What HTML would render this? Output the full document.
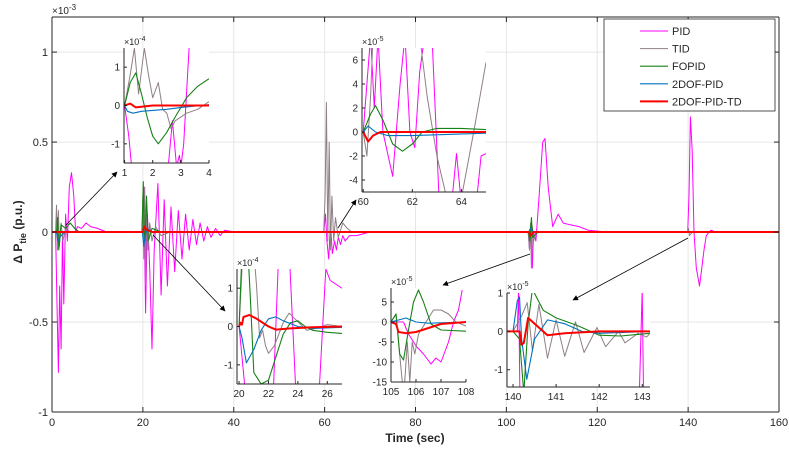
<!DOCTYPE html>
<html><head><meta charset="utf-8"><style>
html,body{margin:0;padding:0;background:#fff;}
svg{display:block;font-family:"Liberation Sans",Arial,sans-serif;}
</style></head><body>
<svg id="chart" width="789" height="452" viewBox="0 0 789 452" xmlns="http://www.w3.org/2000/svg">
<defs><marker id="ah" viewBox="0 0 10 10" refX="9" refY="5" markerWidth="7" markerHeight="7" orient="auto"><path d="M0,0 L10,5 L0,10 z" fill="#000"/></marker></defs>
</svg>
<script>
const seriesNames = ["PID","TID","FOPID","2DOF-PID","2DOF-PID-TD"];
const mainXTicks = [0,20,40,60,80,100,120,140,160];
const mainYTicks = [-1,-0.5,0,0.5,1];
const mainYTickLabels = ["-1","-0.5","0","0.5","1"];
// main plot (units 1e-3)
const pidMain = [[0,0],[0.8,0],[1.1,-0.4],[1.4,-0.78],[1.7,-0.3],[2.0,-0.65],[2.3,0],[2.6,-0.4],[3.0,0.1],[3.4,-0.05],[3.8,0.25],[4.3,0.33],[4.8,0.2],[5.2,0],[5.6,0.03],[6.5,0.02],[7.5,0.05],[8.5,0.03],[10,0.02],[12,0],[19.8,0],[20.2,0.25],[20.6,-0.45],[21.0,0.1],[21.5,-0.2],[22.0,-0.65],[22.5,-0.1],[23.3,0.27],[24.0,-0.35],[24.7,0.18],[25.4,-0.3],[26.2,0.14],[27,-0.22],[27.8,0.12],[28.6,-0.15],[29.4,0.1],[30.2,-0.1],[31,0.07],[31.8,-0.07],[32.6,0.05],[33.4,-0.05],[34.2,0.03],[35,-0.03],[36,0.02],[37,-0.02],[38,0.01],[40,0],[59.8,0],[60.2,0.1],[60.5,-0.05],[60.9,-0.15],[61.3,0.05],[61.7,-0.12],[62.2,-0.05],[62.6,-0.1],[63,-0.03],[63.5,-0.07],[64,-0.02],[64.5,-0.05],[65.5,-0.02],[67,-0.02],[70,0],[104.8,0],[105.1,-0.1],[105.4,0.05],[105.7,-0.2],[106,0],[106.5,-0.05],[107.2,0.2],[108.0,0.5],[108.5,0.52],[109.2,0.25],[110.2,0.03],[111.4,0.1],[112.5,0.05],[114,0.04],[116,0.03],[118,0.01],[122,0],[139.9,0],[140.2,0.2],[140.5,0.64],[140.9,0.45],[141.3,0],[141.8,-0.2],[142.5,-0.3],[143.0,-0.2],[143.5,-0.1],[144,-0.02],[145,0.01],[146,0],[160,0]];
const tidMain = [[0,0],[0.8,0],[1.0,0.15],[1.2,-0.1],[1.4,0.12],[1.6,-0.08],[2,0.05],[2.4,-0.05],[3,0.02],[4,0],[19.8,0],[20.0,0.2],[20.2,-0.15],[20.4,0.25],[20.6,-0.3],[20.8,0.1],[21.1,-0.1],[21.5,0.05],[22,-0.05],[22.8,0.03],[24,-0.02],[26,0],[59.8,0],[60.1,0.2],[60.4,0.72],[60.7,-0.05],[61.0,0.5],[61.3,-0.1],[61.6,0.2],[62,-0.05],[62.4,0.08],[63,-0.03],[64,0.05],[65,0.02],[66,0],[104.8,0],[105.1,-0.1],[105.3,0.05],[105.5,-0.2],[105.7,0.03],[106,-0.05],[106.5,0],[139.8,0],[140.1,0.02],[140.3,-0.02],[141,0],[160,0]];
const fopidMain = [[0,0],[1,0],[1.2,0.08],[1.5,-0.1],[2.0,0.04],[3,0.02],[4,0.05],[5,0.02],[6,0],[19.8,0],[20.1,0.28],[20.3,0],[20.5,-0.05],[20.8,0.2],[21.2,-0.05],[22,0.02],[24,0],[104.9,0],[105.2,-0.05],[105.5,0.08],[105.8,-0.03],[106.2,-0.02],[107,0],[160,0]];
const dofMain = [[0,0],[1,0],[1.3,-0.05],[2,-0.02],[3,0],[19.9,0],[20.2,-0.08],[20.5,-0.02],[21,0.02],[22,0],[104.9,0],[105.3,0.02],[106,0],[160,0]];
const tdMain = [[0,0],[20,0],[20.3,0.03],[21,0.01],[22,0],[105,0],[105.3,-0.02],[106,0],[160,0]];
// inset 1 (1e-4)
const pidIn1 = [[1,0],[1.15,-0.8],[1.3,-2],[2.5,-2],[2.7,-0.4],[2.85,-1.6],[2.95,-1.3],[3.0,-1.6],[3.1,-1],[3.3,1.6]];
const tidIn1 = [[1,0],[1.2,0.8],[1.35,1.5],[1.5,0.3],[1.7,1.5],[1.85,0.8],[2.0,0.2],[2.2,0.6],[2.35,-0.1],[2.5,-0.2],[2.65,-0.6],[2.8,-0.4],[3.2,-0.2],[3.6,-0.1],[4,0.1]];
const fopidIn1 = [[1,0],[1.2,0.6],[1.4,0.85],[1.6,0.3],[1.8,-0.3],[2.0,-0.8],[2.2,-1.0],[2.5,-0.7],[2.8,-0.3],[3.2,0.2],[3.6,0.5],[4,0.7]];
const dofIn1 = [[1,0],[1.1,-0.15],[1.3,-0.2],[1.6,-0.15],[2.5,-0.1],[3,-0.05],[4,0.02]];
const tdIn1 = [[1,0],[1.2,0.05],[1.4,-0.05],[2,0],[4,0]];
// inset 2 (1e-5)
const pidIn2 = [[60,0],[60.3,8],[60.45,2],[60.6,8],[60.8,0],[61.2,-3.7],[61.5,4],[61.7,8],[61.9,0],[62.1,-1.3],[62.3,5],[62.5,8],[62.8,8],[63.1,-6],[63.6,-6],[63.8,-1.8],[64.0,-6],[64.6,-6],[64.8,-2],[65,-1.8]];
const tidIn2 = [[60,0],[60.15,-2],[60.3,3],[60.4,8],[62.3,8],[62.6,3],[63,-2],[63.4,-5.5],[64.0,-5.5],[64.5,0],[65,5.8]];
const fopidIn2 = [[60,0],[60.3,1.5],[60.5,2.2],[60.8,1],[61.2,-1],[61.6,-1.6],[62,-1],[62.4,0],[63,0.3],[64,0.3],[65,0.2]];
const dofIn2 = [[60,0],[60.2,0.5],[60.5,0],[61,-0.3],[62,-0.3],[65,-0.1]];
const tdIn2 = [[60,0],[60.2,-0.8],[60.4,-0.3],[60.7,0],[65,0]];
// inset 3 (1e-4)
const pidIn3 = [[20,0],[20.5,-2],[22.3,-2],[22.7,2],[23.4,2],[23.9,-2],[25.4,-2],[25.9,1.5],[26.2,1.2],[27,1.0]];
const tidIn3 = [[20,0],[20.2,1.5],[20.5,2],[21,2],[21.2,1],[21.4,-0.3],[21.6,-0.1],[21.8,-0.5],[22,-0.7],[22.4,-0.5],[23,0.1],[23.4,0.35],[23.8,0.2],[24.2,0.05],[24.6,-0.1],[25.2,-0.05],[26,0.05],[27,0]];
const fopidIn3 = [[20,0],[20.15,1.5],[20.3,2],[20.6,2],[20.8,0.5],[21,-1.2],[21.5,-1.5],[22,-1.4],[22.5,-0.8],[23,-0.2],[23.5,0.1],[24,0.15],[24.5,0],[25,-0.1],[26,-0.15],[27,-0.18]];
const dofIn3 = [[20,0],[20.2,-0.3],[20.5,-0.95],[21,-0.6],[21.5,-0.1],[22,0.2],[22.5,0.25],[23,0.15],[24,0],[25,-0.05],[27,-0.02]];
const tdIn3 = [[20,0],[20.1,0.1],[20.2,0.05],[20.3,0.25],[20.7,0.3],[21.2,0.2],[22,0],[22.5,-0.08],[23.5,-0.05],[25,-0.02],[27,0]];
// inset 4 (1e-5)
const pidIn4 = [[105,0],[105.5,0],[105.7,-3],[106,-6],[106.3,-8],[106.6,-10.5],[106.8,-9],[107.0,-10],[107.3,-5],[107.5,0],[107.7,3],[107.85,8]];
const tidIn4 = [[105,0],[105.2,2],[105.3,-5],[105.45,-15],[105.55,-15],[105.65,-5],[105.75,-15],[105.85,-5],[105.95,-8],[106.1,-3],[106.3,-1],[106.5,1],[106.7,3],[107,3],[107.3,2],[107.6,0],[108,-1]];
const fopidIn4 = [[105,0],[105.2,2],[105.35,-8],[105.5,-9.5],[105.7,-2],[105.9,5],[106.1,8],[106.3,5],[106.6,-0.5],[107,-2],[108,-2.3]];
const dofIn4 = [[105,0],[105.3,0.5],[105.6,1],[106,0],[106.5,-0.3],[108,0]];
const tdIn4 = [[105,0],[105.2,-0.5],[105.3,-2.5],[105.6,-2.8],[106,-2.5],[106.5,-1.5],[107,-0.5],[108,0]];
// inset 5 (1e-5)
const pidIn5 = [[139.86,0],[140.1,0],[140.13,1.1],[140.16,-1.6],[140.2,-3],[142.9,-3],[143.0,1.1],[143.03,-1.6]];
const tidIn5 = [[140,0],[140.2,0.4],[140.33,0.75],[140.45,-0.5],[140.6,0.7],[140.8,-0.7],[141.0,0.3],[141.2,-0.65],[141.45,0.25],[141.65,-0.55],[141.95,0.1],[142.15,-0.4],[142.45,0],[142.6,-0.3],[142.9,-0.05],[143.1,-0.15],[143.18,-0.05]];
const fopidIn5 = [[140,0],[140.15,-0.2],[140.25,-1.6],[140.35,0.2],[140.45,1.1],[140.7,0.55],[141.0,0.35],[141.5,0.15],[142,-0.1],[142.5,-0.12],[143.18,-0.05]];
const dofIn5 = [[140,0],[140.1,0.8],[140.15,0.9],[140.2,-0.2],[140.32,-1.25],[140.5,-0.2],[140.8,0.3],[141.2,0.2],[141.6,0],[142,-0.05],[143.18,0]];
const tdIn5 = [[139.86,0],[140.15,0],[140.2,-0.35],[140.25,-0.3],[140.35,0.35],[140.5,0.2],[140.8,-0.1],[141.2,-0.05],[142,0],[143.18,0]];

const colors = ["#ff00ff","#8e7f84","#168216","#0072bd","#ff0000"];
const widths = [1,1,1.1,1.1,2];
const NS="http://www.w3.org/2000/svg";
const svg=document.getElementById('chart');
function mk(tag,attrs,parent){const e=document.createElementNS(NS,tag);for(const k in attrs)e.setAttribute(k,attrs[k]);(parent||svg).appendChild(e);return e;}
let clipId=0;
function panel(cfg,series,key){
  const g=mk('g',{});
  
  
  const sx=v=>cfg.l+(v-cfg.x0)/(cfg.x1-cfg.x0)*(cfg.r-cfg.l);
  const sy=v=>cfg.b-(v-cfg.y0)/(cfg.y1-cfg.y0)*(cfg.b-cfg.t);
  mk('rect',{x:cfg.l,y:cfg.t,width:cfg.r-cfg.l,height:cfg.b-cfg.t,fill:'#fff'},g);
  if(cfg.grid){
    cfg.xt.forEach(v=>mk('line',{x1:sx(v),x2:sx(v),y1:cfg.t,y2:cfg.b,stroke:'#e6e6e6','stroke-width':1},g));
    cfg.yt.forEach(v=>mk('line',{x1:cfg.l,x2:cfg.r,y1:sy(v),y2:sy(v),stroke:'#e6e6e6','stroke-width':1},g));
  }
  const id='c'+(clipId++);
  const cp=mk('clipPath',{id:id},g);mk('rect',{x:cfg.l,y:cfg.t,width:cfg.r-cfg.l,height:cfg.b-cfg.t},cp);
  const sg=mk('g',{'clip-path':'url(#'+id+')'},g);
  series.forEach((pts,i)=>{
    const p=mk('polyline',{points:pts.map(d=>sx(d[0]).toFixed(1)+','+sy(d[1]).toFixed(1)).join(' '),fill:'none',stroke:colors[i],'stroke-width':widths[i],'stroke-linejoin':'round'},sg);
    
    
  });
  const ax='#262626';
  mk('line',{x1:cfg.l,x2:cfg.l,y1:cfg.t,y2:cfg.b,stroke:ax},g);
  mk('line',{x1:cfg.l,x2:cfg.r,y1:cfg.b,y2:cfg.b,stroke:ax},g);
  if(cfg.box){mk('line',{x1:cfg.l,x2:cfg.r,y1:cfg.t,y2:cfg.t,stroke:ax},g);mk('line',{x1:cfg.r,x2:cfg.r,y1:cfg.t,y2:cfg.b,stroke:ax},g);}
  const tl=cfg.box?5:3;
  cfg.xt.forEach((v,i)=>{
    mk('line',{x1:sx(v),x2:sx(v),y1:cfg.b,y2:cfg.b-tl,stroke:ax},g);
    if(cfg.box)mk('line',{x1:sx(v),x2:sx(v),y1:cfg.t,y2:cfg.t+tl,stroke:ax},g);
    const t=mk('text',{x:sx(v),y:cfg.b+cfg.fs+3,'font-size':cfg.fs,'text-anchor':'middle',fill:ax},g);t.textContent=cfg.xl?cfg.xl[i]:String(v);
    
    
  });
  cfg.yt.forEach((v,i)=>{
    mk('line',{x1:cfg.l,x2:cfg.l+tl,y1:sy(v),y2:sy(v),stroke:ax},g);
    if(cfg.box)mk('line',{x1:cfg.r,x2:cfg.r-tl,y1:sy(v),y2:sy(v),stroke:ax},g);
    const t=mk('text',{x:cfg.l-4,y:sy(v)+cfg.fs*0.35,'font-size':cfg.fs,'text-anchor':'end',fill:ax},g);t.textContent=cfg.yl?cfg.yl[i]:String(v);
    
    
  });
  const ex=mk('text',{x:cfg.l,y:cfg.t-3,'font-size':cfg.fs-1,fill:ax},g);
  ex.innerHTML='×10<tspan dy="-4" font-size="'+(cfg.fs-3)+'">'+cfg.exp+'</tspan>';
  
  
}
panel({l:52,r:779,t:17,b:412,x0:0,x1:160,y0:-1,y1:1.195,xt:mainXTicks,yt:mainYTicks,yl:mainYTickLabels,grid:true,box:true,fs:11,exp:'-3'},[pidMain,tidMain,fopidMain,dofMain,tdMain],'main');
panel({l:124,r:209,t:48,b:163,x0:0.98,x1:4,y0:-1.5,y1:1.5,xt:[1,2,3,4],yt:[-1,0,1],fs:10,exp:'-4'},[pidIn1,tidIn1,fopidIn1,dofIn1,tdIn1],'inset-1');
panel({l:362,r:486,t:48,b:192,x0:59.95,x1:65,y0:-5,y1:7,xt:[60,62,64],yt:[-4,-2,0,2,4,6],fs:10,exp:'-5'},[pidIn2,tidIn2,fopidIn2,dofIn2,tdIn2],'inset-2');
panel({l:237,r:342,t:269,b:384,x0:19.86,x1:27,y0:-1.5,y1:1.5,xt:[20,22,24,26],yt:[-1,0,1],fs:10,exp:'-4'},[pidIn3,tidIn3,fopidIn3,dofIn3,tdIn3],'inset-3');
panel({l:391,r:466,t:288,b:382,x0:105,x1:108,y0:-15,y1:8.5,xt:[105,106,107,108],yt:[-15,-10,-5,0,5],fs:10,exp:'-5'},[pidIn4,tidIn4,fopidIn4,dofIn4,tdIn4],'inset-4');
panel({l:507,r:650,t:293,b:387,x0:139.86,x1:143.18,y0:-1.45,y1:1,xt:[140,141,142,143],yt:[-1,0,1],fs:10,exp:'-5'},[pidIn5,tidIn5,fopidIn5,dofIn5,tdIn5],'inset-5');
// arrows (drawn on top of insets)
[[66,225,117,172],[338,228,356,200],[153,235,225,311],[530,254,443,285],[688,238,573,300]].forEach((a,i)=>{
  const l=mk('line',{x1:a[0],y1:a[1],x2:a[2],y2:a[3],stroke:'#000','stroke-width':0.8,'marker-end':'url(#ah)'});
  
  
});
// legend
const lg=mk('g',{});


mk('rect',{x:604,y:19,width:171,height:92,fill:'#fff',stroke:'#262626','stroke-width':0.8},lg);
seriesNames.forEach((n,i)=>{
  const y=31+i*17.6;
  const e=mk('g',{},lg);
  
  
  mk('line',{x1:640,x2:668,y1:y,y2:y,stroke:colors[i],'stroke-width':widths[i]},e);
  const t=mk('text',{x:672,y:y+4,'font-size':11,fill:'#262626'},e);t.textContent=n;
});
const xt=mk('text',{x:415,y:442,'font-size':12,'font-weight':'bold','text-anchor':'middle',fill:'#262626'});
xt.textContent='Time (sec)';


const yt=mk('text',{transform:'translate(22,232) rotate(-90)','font-size':12,'font-weight':'bold','text-anchor':'middle',fill:'#262626'});
yt.innerHTML='Δ P<tspan dy="4" font-size="9">tie</tspan><tspan dy="-4"> (p.u.)</tspan>';


</script>
</body></html>
